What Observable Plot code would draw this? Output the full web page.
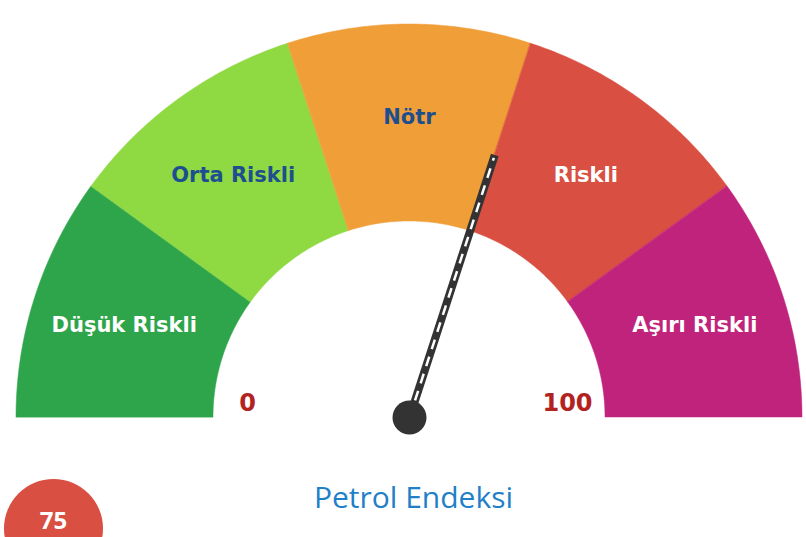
<!DOCTYPE html>
<html>
<head>
<meta charset="utf-8">
<script src="https://cdn.jsdelivr.net/npm/d3@7"></script>
<script src="https://cdn.jsdelivr.net/npm/@observablehq/plot@0.6"></script>
<style>
  html, body { margin: 0; padding: 0; background: #ffffff; overflow: hidden; }
  #chart svg { display: block; }
</style>
</head>
<body>
<div id="chart"></div>
<script>
// ---- data ----
const segments = ["Düşük Riskli", "Orta Riskli", "Nötr", "Riskli", "Aşırı Riskli"];
const segmentStart = [0, 20, 40, 60, 80];
const segmentEnd = [20, 40, 60, 80, 100];
const segmentColors = ["#2ea44b", "#8fd943", "#f09e38", "#d94f42", "#c0237c"];
const labelColors = ["#ffffff", "#1d4f8f", "#1d4f8f", "#ffffff", "#ffffff"];
const scaleTicks = [0, 100];
const needleValue = 60;     // needle position
const badgeValue = 75;      // value shown in the red badge
const indexName = "Petrol Endeksi";

// ---- geometry (layout) ----
const R_OUT = 393, R_IN = 196, R_LABEL = 300, R_TICK = 162, NEEDLE = 276;
const ang = v => Math.PI * (1 - v / 100);

const arcPts = [];
segments.forEach((s, i) => {
  const n = 60;
  for (let k = 0; k <= n; k++) {
    const v = segmentStart[i] + (segmentEnd[i] - segmentStart[i]) * k / n;
    const a = ang(v);
    arcPts.push({seg: s, xi: R_IN * Math.cos(a), yi: R_IN * Math.sin(a), xo: R_OUT * Math.cos(a), yo: R_OUT * Math.sin(a)});
  }
});
const labels = segments.map((s, i) => {
  const a = ang((segmentStart[i] + segmentEnd[i]) / 2);
  return {label: s, x: R_LABEL * Math.cos(a), y: R_LABEL * Math.sin(a), color: labelColors[i]};
});
const ticks = scaleTicks.map(t => ({label: String(t), x: R_TICK * Math.cos(ang(t)) + (t === 0 ? 0 : -4), y: 14}));

const plot = Plot.plot({
  width: 806,
  height: 537,
  margin: 0,
  x: {domain: [-409, 397], axis: null},
  y: {domain: [-120, 417], axis: null},
  color: {domain: segments, range: segmentColors},
  marks: [
    Plot.area(arcPts, {x1: "xi", y1: "yi", x2: "xo", y2: "yo", z: "seg", fill: "seg", stroke: "seg", strokeWidth: 0.5}),
    Plot.text(labels, {x: "x", y: "y", text: "label", fill: "color", fontFamily: "DejaVu Sans", fontWeight: "bold", fontSize: 21}),
    Plot.text(ticks, {x: "x", y: "y", text: "label", fill: "#b3221f", fontFamily: "DejaVu Sans", fontWeight: "bold", fontSize: 24}),
    Plot.link([needleValue], {x1: () => 0, y1: () => 0, x2: v => NEEDLE * Math.cos(ang(v)), y2: v => NEEDLE * Math.sin(ang(v)), stroke: "#333333", strokeWidth: 8, strokeLinecap: "butt"}),
    Plot.link([needleValue], {x1: () => 0, y1: () => 0, x2: v => (NEEDLE - 3) * Math.cos(ang(v)), y2: v => (NEEDLE - 3) * Math.sin(ang(v)), stroke: "#ffffff", strokeWidth: 2.5, strokeDasharray: "10,8", strokeLinecap: "butt"}),
    Plot.dot([needleValue], {x: () => 0, y: () => 0, r: 17, fill: "#333333"}),
    Plot.text([indexName], {x: () => 4, y: () => -81, text: d => d, fill: "#1f7fc8", fontFamily: "Open Sans", fontSize: 30}),
    Plot.dot([badgeValue], {x: () => -356, y: () => -111, r: 49.5, fill: "#d94f42"}),
    Plot.text([badgeValue], {x: () => -356, y: () => -104, text: d => String(d), fill: "#ffffff", fontFamily: "Open Sans", fontWeight: "bold", fontSize: 24})
  ]
});
document.getElementById("chart").appendChild(plot);
</script>
</body>
</html>
